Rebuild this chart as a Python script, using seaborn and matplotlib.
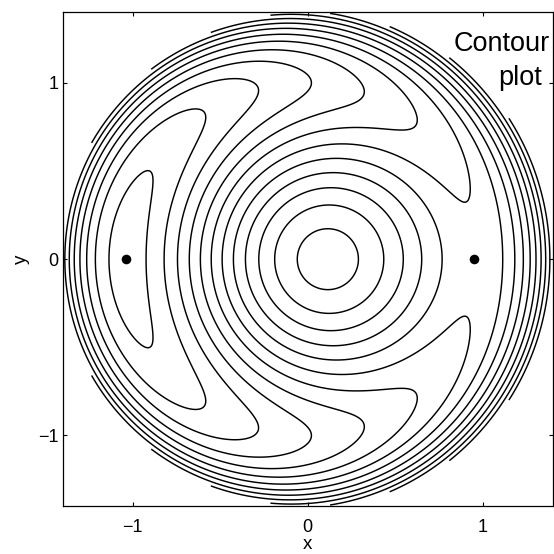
import numpy as np
import matplotlib
matplotlib.use("Agg")
import matplotlib.pyplot as plt
import seaborn as sns

# Averaged (rotating-frame) Hamiltonian of a driven nonlinear oscillator:
#   H(r, theta) = RING_HEIGHT * (2 r^2 - r^4) + (DRIVE_LINEAR * r + DRIVE_CUBIC * r^3) * cos(theta)
RING_HEIGHT = 8.35
DRIVE_LINEAR = -3.7
DRIVE_CUBIC = 0.39
DISK_RADIUS = 1.4

contour_levels = [-5.72, -4.72, -3.72, -2.72, -1.72, -0.72, 0.28, 1.28, 2.28,
                  3.28, 4.28, 5.28, 6.28, 7.28, 8.28, 9.28, 10.28, 11.28]

# fixed points on the x axis (centre of the island and the saddle)
point_x = [-1.04, 0.951]
point_y = [0.0, 0.0]

tick_values = [-1, 0, 1]
tick_labels = ["\u22121", "0", "1"]

sns.set_theme(style="ticks")
plt.rcParams["font.family"] = ["Liberation Sans", "DejaVu Sans"]
plt.rcParams["axes.unicode_minus"] = True

fig = plt.figure(figsize=(5.54, 5.54), dpi=100)
ax = fig.add_axes([0.1132, 0.0866, 0.8845, 0.8911])

# polar grid restricted to the disk r <= DISK_RADIUS
r = np.linspace(0.0, DISK_RADIUS, 400)
theta = np.linspace(0.0, 2.0 * np.pi, 1081)
R, T = np.meshgrid(r, theta)
X = R * np.cos(T)
Y = R * np.sin(T)
H = RING_HEIGHT * (2 * R ** 2 - R ** 4) + (DRIVE_LINEAR * R + DRIVE_CUBIC * R ** 3) * np.cos(T)

ax.contour(X, Y, H, levels=contour_levels, colors="black",
           linewidths=1.05, linestyles="solid")

sns.scatterplot(x=point_x, y=point_y, ax=ax, color="black", s=48,
                edgecolor="black", linewidth=0, zorder=5, legend=False)

ax.set_xlim(-1.4, 1.4)
ax.set_ylim(-1.4, 1.4)
ax.set_xticks(tick_values)
ax.set_xticklabels(tick_labels)
ax.set_yticks(tick_values)
ax.set_yticklabels(tick_labels)
ax.tick_params(direction="in", length=3.0, width=0.8, color="black",
               top=True, right=True, labelsize=13, labelcolor="black")
ax.tick_params(axis="x", pad=9)
ax.tick_params(axis="y", pad=3)
for sp in ax.spines.values():
    sp.set_visible(True)
    sp.set_color("black")
    sp.set_linewidth(0.9)

ax.set_xlabel("x", fontsize=13.5, color="black", labelpad=0.5)
ax.set_ylabel("y", fontsize=13.5, color="black", labelpad=6)

ax.text(0.995, 0.962, "Contour", transform=ax.transAxes, ha="right", va="top",
        fontsize=19.5, color="black")
ax.text(0.978, 0.893, "plot", transform=ax.transAxes, ha="right", va="top",
        fontsize=19.5, color="black")

fig.savefig("out.png", dpi=100)
